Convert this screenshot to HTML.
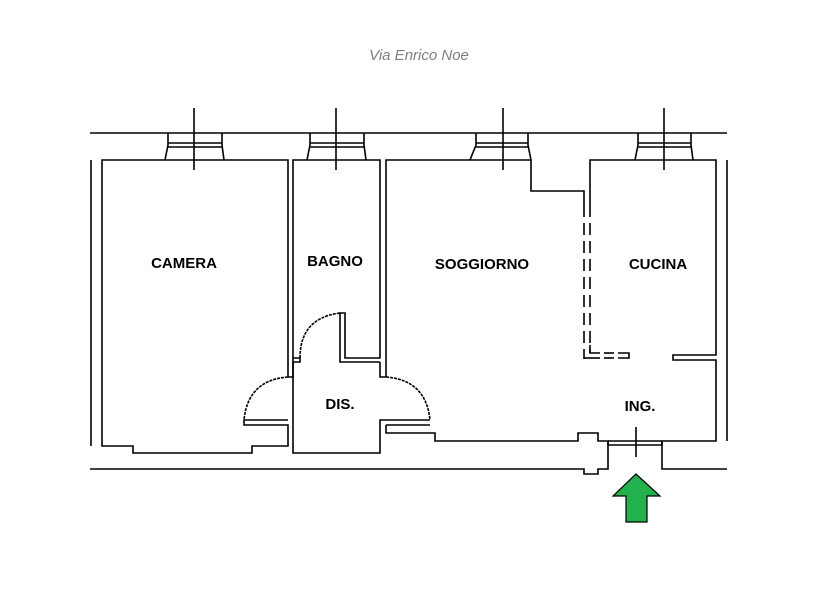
<!DOCTYPE html>
<html><head><meta charset="utf-8"><style>
html,body{margin:0;padding:0;background:#fff;}
svg{display:block;}
text{font-family:"Liberation Sans","DejaVu Sans",sans-serif;}
</style></head><body>
<svg width="817" height="607" viewBox="0 0 817 607" xmlns="http://www.w3.org/2000/svg">
<rect width="817" height="607" fill="#fff"/>
<text x="419" y="60" text-anchor="middle" font-size="15" font-style="italic" fill="#7f7f7f">Via Enrico Noe</text>
<g fill="none" stroke="#000" stroke-width="1.6">
<!-- outer street lines -->
<line x1="90" y1="133" x2="727" y2="133"/>
<polyline points="90,469 584,469 584,474 598,474 598,469 608,469 608,441"/>
<polyline points="662,441 662,469 727,469"/>
<line x1="91" y1="160" x2="91" y2="446"/>
<line x1="727" y1="160" x2="727" y2="441"/>
<!-- windows -->
<g>
<polyline points="168,133 168,145 165,160"/><polyline points="222,133 222,145 224,160"/>
<line x1="168" y1="143" x2="222" y2="143"/><line x1="168" y1="147" x2="222" y2="147"/>
<line x1="194" y1="108" x2="194" y2="170"/>
<polyline points="310,133 310,145 307,160"/><polyline points="364,133 364,145 366,160"/>
<line x1="310" y1="143" x2="364" y2="143"/><line x1="310" y1="147" x2="364" y2="147"/>
<line x1="336" y1="108" x2="336" y2="170"/>
<polyline points="476,133 476,145 470,160"/><polyline points="528,133 528,145 531,160"/>
<line x1="476" y1="143" x2="528" y2="143"/><line x1="476" y1="147" x2="528" y2="147"/>
<line x1="503" y1="108" x2="503" y2="170"/>
<polyline points="638,133 638,145 635,160"/><polyline points="691,133 691,145 693,160"/>
<line x1="638" y1="143" x2="691" y2="143"/><line x1="638" y1="147" x2="691" y2="147"/>
<line x1="664" y1="108" x2="664" y2="170"/>
</g>
<!-- camera -->
<polyline points="288,377 288,160 102,160 102,446 133,446 133,453 252,453 252,446 288,446 288,425 244,425 244,420 288,420"/>
<!-- bagno -->
<polyline points="288,377 293,377 293,160 380,160 380,358 345,358 345,313 340,313 340,362 380,362"/>
<polyline points="293,377 293,362 300,362 300,358 293,358"/>
<path d="M300,358 Q300,318 340,313" stroke-dasharray="3,1"/>
<!-- dis -->
<polyline points="293,377 293,453 380,453 380,420 386,420"/>
<polyline points="380,362 380,377 386,377"/>
<path d="M288,377 Q248,380 244,420" stroke-dasharray="3,1"/>
<path d="M386,377 Q426,380 430,420" stroke-dasharray="3,1"/>
<line x1="386" y1="420" x2="430" y2="420"/><line x1="386" y1="425" x2="430" y2="425"/>
<!-- soggiorno -->
<polyline points="386,377 386,160 531,160 531,191 584,191 584,205"/>
<polyline points="386,425 386,433 435,433 435,441 578,441 578,433 598,433 598,441 608,441 608,445 662,445 662,441 716,441 716,360 673,360 673,355 716,355 716,160 590,160 590,205"/>
<line x1="608" y1="441" x2="662" y2="441"/>
<line x1="636" y1="427" x2="636" y2="457"/>
<g stroke-dasharray="12,6">
<line x1="584" y1="205" x2="584" y2="359"/>
<line x1="590" y1="205" x2="590" y2="353"/>
</g>
<polyline points="584,358 600,358"/>
<polyline points="590,345 590,353 600,353"/>
<line x1="604" y1="358" x2="614" y2="358"/><line x1="604" y1="353" x2="614" y2="353"/>
<polyline points="618,353 629,353 629,358 618,358"/>
</g>
<polygon points="636,474 660,496 647,496 647,522 626,522 626,496 613,496" fill="#22b14c" stroke="#000" stroke-width="1.2"/>
<g font-size="15" font-weight="bold" fill="#000" text-anchor="middle">
<text x="184" y="268">CAMERA</text>
<text x="335" y="266">BAGNO</text>
<text x="482" y="269">SOGGIORNO</text>
<text x="658" y="269">CUCINA</text>
<text x="340" y="409">DIS.</text>
<text x="640" y="411">ING.</text>
</g>
</svg>
</body></html>
